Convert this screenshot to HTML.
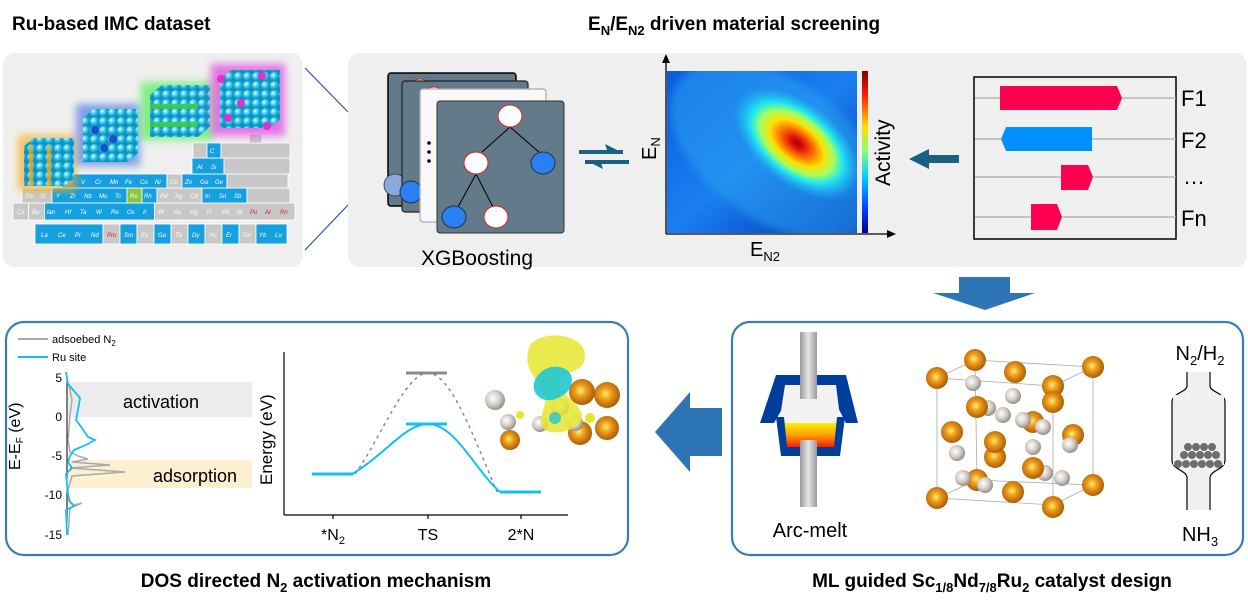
<!DOCTYPE html>
<html><head><meta charset="utf-8"><style>
html,body{margin:0;padding:0;background:#fff;}
svg{display:block;font-family:"Liberation Sans",Arial,sans-serif;}
</style></head><body>
<svg width="1248" height="606" viewBox="0 0 1248 606" xmlns="http://www.w3.org/2000/svg">
<defs>
<radialGradient id="cy" cx="0.35" cy="0.35" r="0.7"><stop offset="0" stop-color="#d8fbff"/><stop offset="0.5" stop-color="#2cc6ea"/><stop offset="1" stop-color="#0a87b8"/></radialGradient>
<radialGradient id="or" cx="0.45" cy="0.45" r="0.6"><stop offset="0" stop-color="#fff36a"/><stop offset="0.35" stop-color="#f0a020"/><stop offset="1" stop-color="#a55200"/></radialGradient>
<radialGradient id="gy" cx="0.4" cy="0.4" r="0.65"><stop offset="0" stop-color="#ffffff"/><stop offset="0.5" stop-color="#d6d0c8"/><stop offset="1" stop-color="#8e8780"/></radialGradient>
<pattern id="sph" width="9" height="9" patternUnits="userSpaceOnUse"><rect width="9" height="9" fill="#1390c0"/><circle cx="4.5" cy="4.5" r="4.5" fill="url(#cy)"/></pattern>
<radialGradient id="heat" cx="0.5" cy="0.5" r="0.5">
<stop offset="0" stop-color="#a00000"/><stop offset="0.1" stop-color="#e01010"/><stop offset="0.25" stop-color="#ff7000"/><stop offset="0.4" stop-color="#ffe000"/><stop offset="0.55" stop-color="#a0ff60"/><stop offset="0.68" stop-color="#20e8f0"/><stop offset="0.85" stop-color="#20b0f0" stop-opacity="0.6"/><stop offset="1" stop-color="#1880f0" stop-opacity="0"/></radialGradient>
<linearGradient id="hbg" x1="0" y1="0" x2="1" y2="1"><stop offset="0" stop-color="#0a5ae0"/><stop offset="0.5" stop-color="#1a80f0"/><stop offset="1" stop-color="#0030b0"/></linearGradient>
<linearGradient id="cbar" x1="0" y1="1" x2="0" y2="0"><stop offset="0" stop-color="#00008f"/><stop offset="0.15" stop-color="#0040ff"/><stop offset="0.35" stop-color="#00d0ff"/><stop offset="0.5" stop-color="#80ff80"/><stop offset="0.65" stop-color="#ffe000"/><stop offset="0.85" stop-color="#ff2000"/><stop offset="1" stop-color="#800000"/></linearGradient>
<linearGradient id="melt" x1="0" y1="0" x2="0" y2="1"><stop offset="0" stop-color="#fff200"/><stop offset="0.5" stop-color="#ff9a00"/><stop offset="1" stop-color="#ff1000"/></linearGradient>
<linearGradient id="rod" x1="0" y1="0" x2="1" y2="0"><stop offset="0" stop-color="#9a9a9a"/><stop offset="0.5" stop-color="#e6e6e6"/><stop offset="1" stop-color="#9a9a9a"/></linearGradient>
<filter id="bl" x="-30%" y="-30%" width="160%" height="160%"><feGaussianBlur stdDeviation="4"/></filter>
</defs>

<text x="12" y="30" font-size="19" font-weight="bold">Ru-based IMC dataset</text>
<text x="588" y="30" font-size="19" font-weight="bold">E<tspan font-size="13" dy="5">N</tspan><tspan dy="-5">/E</tspan><tspan font-size="13" dy="5">N2</tspan><tspan dy="-5"> driven material screening</tspan></text>

<rect x="3" y="53" width="300" height="214" rx="12" fill="#efefef"/>
<line x1="305" y1="68" x2="348" y2="112" stroke="#2a50b0" stroke-width="1.2"/>
<line x1="305" y1="250" x2="348" y2="205" stroke="#2a50b0" stroke-width="1.2"/>

<g stroke="#fff" stroke-width="0.8" font-size="6" fill="#fff" font-style="italic">
<rect x="13" y="203" width="15.7" height="17" fill="#c8c8c8"/><rect x="28.7" y="203" width="15.7" height="17" fill="#c8c8c8"/>
<rect x="44.4" y="203" width="110" height="17" fill="#16a0e0"/>
<rect x="154.4" y="203" width="140.6" height="17" fill="#c8c8c8"/>
<rect x="22" y="188" width="30" height="15" fill="#c8c8c8"/>
<rect x="52" y="188" width="75" height="15" fill="#16a0e0"/>
<rect x="127" y="188" width="15" height="15" fill="#8cc63f"/>
<rect x="142" y="188" width="15" height="15" fill="#16a0e0"/>
<rect x="157" y="188" width="45" height="15" fill="#c8c8c8"/>
<rect x="202" y="188" width="45" height="15" fill="#16a0e0"/>
<rect x="247" y="188" width="43" height="15" fill="#c8c8c8"/>
<rect x="62" y="174" width="105" height="14" fill="#16a0e0"/>
<rect x="167" y="174" width="15" height="14" fill="#c8c8c8"/>
<rect x="182" y="174" width="45" height="14" fill="#16a0e0"/>
<rect x="227" y="174" width="61" height="14" fill="#c8c8c8"/>
<rect x="192" y="158" width="32" height="16" fill="#16a0e0"/>
<rect x="224" y="158" width="66" height="16" fill="#c8c8c8"/>
<rect x="193" y="143" width="14" height="15" fill="#c8c8c8"/>
<rect x="207" y="143" width="14" height="15" fill="#16a0e0"/>
<rect x="221" y="143" width="69" height="15" fill="#c8c8c8"/>
<rect x="249" y="134" width="13" height="9" fill="#c8c8c8"/>
<rect x="35" y="224" width="68" height="20" fill="#16a0e0"/>
<rect x="103" y="224" width="17" height="20" fill="#c8c8c8"/>
<rect x="120" y="224" width="17" height="20" fill="#16a0e0"/>
<rect x="137" y="224" width="17" height="20" fill="#c8c8c8"/>
<rect x="154" y="224" width="17" height="20" fill="#16a0e0"/>
<rect x="171" y="224" width="17" height="20" fill="#c8c8c8"/>
<rect x="188" y="224" width="17" height="20" fill="#16a0e0"/>
<rect x="205" y="224" width="17" height="20" fill="#c8c8c8"/>
<rect x="222" y="224" width="17" height="20" fill="#16a0e0"/>
<rect x="239" y="224" width="17" height="20" fill="#c8c8c8"/>
<rect x="256" y="224" width="31" height="20" fill="#16a0e0"/>
<g stroke="none">
<text x="41" y="237">La</text><text x="58" y="237">Ce</text><text x="75" y="237">Pr</text><text x="91" y="237">Nd</text><text x="107" y="237" fill="#e02020">Pm</text><text x="124" y="237">Sm</text><text x="141" y="237">Eu</text><text x="158" y="237">Ga</text><text x="175" y="237">Tb</text><text x="192" y="237">Dy</text><text x="209" y="237">Ho</text><text x="226" y="237">Er</text><text x="242" y="237">Tm</text><text x="259" y="237">Yb</text><text x="275" y="237">Lu</text>
<text x="17" y="214">Cs</text><text x="32" y="214">Ba</text><text x="47" y="214">lan</text><text x="65" y="214">Hf</text><text x="80" y="214">Ta</text><text x="96" y="214">W</text><text x="111" y="214">Re</text><text x="127" y="214">Os</text><text x="143" y="214">Ir</text><text x="158" y="214">Pt</text><text x="174" y="214">Au</text><text x="190" y="214">Hg</text><text x="206" y="214">Tl</text><text x="222" y="214">Pb</text><text x="237" y="214">Bi</text><text x="250" y="214" fill="#e02020">Po</text><text x="265" y="214" fill="#e02020">At</text><text x="280" y="214" fill="#e02020">Rn</text>
<text x="25" y="198">Rb</text><text x="40" y="198">Sr</text><text x="56" y="198">Y</text><text x="70" y="198">Zr</text><text x="84" y="198">Nb</text><text x="99" y="198">Mo</text><text x="115" y="198">Tc</text><text x="130" y="198">Ru</text><text x="144" y="198">Rh</text><text x="160" y="198">Pd</text><text x="175" y="198">Ag</text><text x="190" y="198">Cd</text><text x="205" y="198">In</text><text x="219" y="198">Sn</text><text x="234" y="198">Sb</text>
<text x="66" y="184">Ti</text><text x="81" y="184">V</text><text x="95" y="184">Cr</text><text x="110" y="184">Mn</text><text x="125" y="184">Fe</text><text x="140" y="184">Co</text><text x="155" y="184">Ni</text><text x="170" y="184">Cu</text><text x="185" y="184">Zn</text><text x="200" y="184">Ga</text><text x="215" y="184">Ge</text>
<text x="197" y="169">Al</text><text x="211" y="169">Si</text><text x="210" y="153">C</text>
</g>
</g>

<g>
<rect x="18" y="135" width="58" height="56" fill="#f5b020" opacity="0.7" filter="url(#bl)"/>
<rect x="24" y="146" width="40" height="40" fill="url(#sph)"/>
<polygon points="24,146 34,138 74,138 64,146" fill="url(#sph)"/>
<polygon points="64,146 74,138 74,178 64,186" fill="url(#sph)"/>
<rect x="29" y="146" width="4" height="40" fill="#f0a010" opacity="0.8"/><rect x="47" y="146" width="4" height="40" fill="#f0a010" opacity="0.8"/>
</g>
<g>
<rect x="76" y="104" width="64" height="62" fill="#3a6ae0" opacity="0.6" filter="url(#bl)"/>
<rect x="83" y="118" width="44" height="44" fill="url(#sph)"/>
<polygon points="83,118 94,109 138,109 127,118" fill="url(#sph)"/>
<polygon points="127,118 138,109 138,153 127,162" fill="url(#sph)"/>
<circle cx="95" cy="130" r="4" fill="#1a50d0"/><circle cx="113" cy="139" r="4" fill="#1a50d0"/><circle cx="104" cy="148" r="4" fill="#1a50d0"/>
</g>
<g>
<rect x="141" y="82" width="72" height="58" fill="#50f050" opacity="0.7" filter="url(#bl)"/>
<rect x="150" y="95" width="48" height="42" fill="url(#sph)"/>
<polygon points="150,95 162,85 210,85 198,95" fill="url(#sph)"/>
<polygon points="198,95 210,85 210,127 198,137" fill="url(#sph)"/>
<rect x="150" y="104" width="48" height="5" fill="#40d040" opacity="0.85"/><rect x="150" y="122" width="48" height="5" fill="#40d040" opacity="0.85"/>
</g>
<g>
<rect x="211" y="64" width="74" height="72" fill="#e040e0" opacity="0.7" filter="url(#bl)"/>
<rect x="220" y="78" width="48" height="50" fill="url(#sph)"/>
<polygon points="220,78 232,70 280,70 268,78" fill="url(#sph)"/>
<polygon points="268,78 280,70 280,120 268,128" fill="url(#sph)"/>
<circle cx="221" cy="79" r="4" fill="#e030d0"/><circle cx="241" cy="103" r="4" fill="#e030d0"/><circle cx="267" cy="126" r="4" fill="#e030d0"/><circle cx="262" cy="76" r="4" fill="#e030d0"/><circle cx="228" cy="118" r="4" fill="#e030d0"/>
</g>

<rect x="348" y="53" width="899" height="214" rx="12" fill="#efefef"/>
<rect x="388" y="73" width="128" height="133" rx="3" fill="#627a8a" stroke="#000" stroke-width="1.5"/>
<circle cx="395" cy="185" r="11" fill="#8aa8e0" stroke="#334" stroke-width="0.8"/>
<circle cx="420" cy="90" r="11" fill="#fff" stroke="#e02020"/>
<rect x="402" y="81" width="126" height="131" rx="3" fill="#627a8a" stroke="#222" stroke-width="1.2"/>
<circle cx="411" cy="192" r="11" fill="#2a80f0" stroke="#234"/>
<circle cx="434" cy="98" r="11" fill="#fff" stroke="#e02020"/>
<rect x="420" y="89" width="126" height="133" rx="3" fill="#f8f8f8" stroke="#aaa" stroke-width="1.2"/>
<rect x="437" y="101" width="127" height="132" rx="3" fill="#627a8a" stroke="#333" stroke-width="1"/>
<circle cx="429" cy="143" r="1.8" fill="#000"/><circle cx="429" cy="152" r="1.8" fill="#000"/><circle cx="429" cy="161" r="1.8" fill="#000"/>
<g stroke="#000" stroke-width="1"><line x1="510" y1="127" x2="482" y2="152"/><line x1="510" y1="127" x2="540" y2="153"/><line x1="476" y1="174" x2="458" y2="207"/><line x1="476" y1="174" x2="493" y2="207"/></g>
<ellipse cx="510" cy="116" rx="12" ry="11" fill="#fff" stroke="#e02020"/>
<ellipse cx="476" cy="163" rx="12" ry="11" fill="#fff" stroke="#e02020"/>
<ellipse cx="543" cy="163" rx="12" ry="11" fill="#2a80f0" stroke="#234"/>
<ellipse cx="454" cy="217" rx="12" ry="11" fill="#2a80f0" stroke="#234"/>
<ellipse cx="496" cy="217" rx="12" ry="11" fill="#fff" stroke="#e02020"/>
<text x="477" y="265" font-size="21" text-anchor="middle">XGBoosting</text>
<polygon points="579,153 623,153 605,144 608,153" fill="#1a6080"/>
<rect x="579" y="150" width="44" height="4" fill="#1a6080"/>
<rect x="585" y="160" width="44" height="4" fill="#1a6080"/>
<polygon points="585,160 603,169 600,160" fill="#1a6080"/>
<svg x="667" y="71" width="190" height="162" viewBox="0 0 190 162">
<rect width="190" height="162" fill="url(#hbg)"/>
<ellipse cx="110" cy="80" rx="120" ry="70" transform="rotate(35 110 80)" fill="#2aa0f0" opacity="0.55" filter="url(#bl)"/>
<ellipse cx="130" cy="72" rx="78" ry="44" transform="rotate(38 130 72)" fill="url(#heat)"/>
</svg>
<rect x="862" y="71" width="6" height="162" fill="url(#cbar)"/>
<g stroke="#000" stroke-width="1.3"><line x1="666" y1="234" x2="666" y2="60"/><line x1="666" y1="234" x2="890" y2="234"/></g>
<polygon points="666,54 662,63 670,63" fill="#000"/><polygon points="896,234 887,230 887,238" fill="#000"/>
<text transform="translate(656,160) rotate(-90)" font-size="20">E<tspan font-size="13" dy="4">N</tspan></text>
<text x="750" y="256" font-size="20">E<tspan font-size="13" dy="5">N2</tspan></text>
<text transform="translate(890,186) rotate(-90)" font-size="21">Activity</text>
<polygon points="909,159 929,149 929,155 959,155 959,163 929,163 929,169" fill="#1a6080"/>
<rect x="974" y="77" width="202" height="162" fill="#f0f0f0" stroke="#000" stroke-width="1.5"/>
<g stroke="#aaa" stroke-width="1.2"><line x1="975" y1="98" x2="1176" y2="98"/><line x1="975" y1="139" x2="1176" y2="139"/><line x1="975" y1="177" x2="1176" y2="177"/><line x1="975" y1="217" x2="1176" y2="217"/></g>
<polygon points="1000,86 1117,86 1122,98 1117,110 1000,110" fill="#ff0050"/>
<polygon points="1006,127 1092,127 1092,151 1006,151 1001,139" fill="#0090ff"/>
<polygon points="1061,165 1088,165 1093,177 1088,190 1061,190" fill="#ff0050"/>
<polygon points="1031,204 1057,204 1062,217 1057,230 1031,230" fill="#ff0050"/>
<g font-size="22"><text x="1181" y="106">F1</text><text x="1181" y="148">F2</text><text x="1183" y="184">…</text><text x="1181" y="226">Fn</text></g>

<polygon points="959,277 1010,277 1010,293 1035,293 985,310 933,293 959,293" fill="#2e75b6"/>
<polygon points="722,408 690,408 690,392 655,432 690,472 690,456 722,456" fill="#2e75b6"/>

<rect x="6" y="322" width="622" height="233" rx="18" fill="#fff" stroke="#3d7ab8" stroke-width="2.2"/>
<line x1="18" y1="339" x2="48" y2="339" stroke="#aaa" stroke-width="2"/>
<text x="52" y="343" font-size="11">adsoebed N<tspan font-size="8" dy="3">2</tspan></text>
<line x1="18" y1="357" x2="48" y2="357" stroke="#10c0f0" stroke-width="2"/>
<text x="52" y="361" font-size="11">Ru site</text>
<rect x="68" y="382" width="184" height="35" fill="#ececec"/>
<rect x="68" y="460" width="184" height="28" fill="#fdf0d0"/>
<text x="161" y="408" font-size="18" text-anchor="middle">activation</text>
<text x="195" y="482" font-size="18" text-anchor="middle">adsorption</text>
<line x1="67" y1="378" x2="67" y2="535" stroke="#000" stroke-width="1"/>
<g font-size="12" text-anchor="end"><text x="62" y="382">5</text><text x="62" y="421">0</text><text x="62" y="460">-5</text><text x="62" y="499">-10</text><text x="62" y="539">-15</text></g>
<text transform="translate(20,470) rotate(-90)" font-size="16">E-E<tspan font-size="10" dy="3">F</tspan><tspan dy="-3"> (eV)</tspan></text>
<polyline points="69,385 72,400 70,415 68,440 70,452 78,456 88,459 72,462 110,465 70,468 125,472 72,476 68,490 68,500 74,505 82,503 70,508 68,535" fill="none" stroke="#aaa" stroke-width="1.5"/>
<polyline points="66,372 68,384 80,398 78,410 76,420 82,428 88,437 95,440 86,445 74,450 70,456 68,462 72,468 66,474 68,495 70,502 74,506 66,510 67,535" fill="none" stroke="#10c0f0" stroke-width="1.8"/>
<g stroke="#000" stroke-width="1.2"><line x1="284" y1="352" x2="284" y2="515"/><line x1="284" y1="515" x2="568" y2="515"/>
<line x1="333" y1="515" x2="333" y2="519"/><line x1="428" y1="515" x2="428" y2="519"/><line x1="521" y1="515" x2="521" y2="519"/></g>
<g font-size="16" text-anchor="middle"><text x="333" y="540">*N<tspan font-size="11" dy="4">2</tspan></text><text x="428" y="540">TS</text><text x="521" y="540">2*N</text></g>
<text transform="translate(272,485) rotate(-90)" font-size="17">Energy (eV)</text>
<path d="M355,474 C380,440 405,373 428,373 C451,373 475,440 497,492" fill="none" stroke="#888" stroke-width="1.5" stroke-dasharray="3,4"/>
<path d="M352,474 C385,455 405,424 428,424 C455,424 475,470 500,492" fill="none" stroke="#10c0f0" stroke-width="2"/>
<g stroke-width="3"><line x1="312" y1="474" x2="353" y2="474" stroke="#10c0f0"/><line x1="406" y1="424" x2="447" y2="424" stroke="#10c0f0"/><line x1="406" y1="373" x2="447" y2="373" stroke="#888"/><line x1="500" y1="492" x2="541" y2="492" stroke="#10c0f0"/></g>
<g>
<circle cx="607" cy="395" r="13" fill="url(#or)"/><circle cx="582" cy="392" r="13" fill="url(#or)"/><circle cx="580" cy="433" r="12" fill="url(#or)"/><circle cx="607" cy="428" r="12" fill="url(#or)"/><circle cx="510" cy="440" r="10" fill="url(#or)"/>
<circle cx="495" cy="400" r="10" fill="url(#gy)"/><circle cx="560" cy="407" r="9" fill="url(#gy)"/><circle cx="540" cy="424" r="8" fill="url(#gy)"/><circle cx="575" cy="423" r="8" fill="url(#gy)"/><circle cx="508" cy="422" r="8" fill="url(#gy)"/>
<path d="M530,345 C545,328 585,335 585,355 C585,372 570,370 560,378 C555,390 575,400 580,410 C590,425 560,438 545,430 C535,420 548,405 545,395 C540,380 520,370 530,345 Z" fill="#e6e630" opacity="0.85"/>
<path d="M535,380 C545,360 572,365 572,380 C572,392 560,398 552,400 C540,402 530,392 535,380 Z" fill="#20c8d0" opacity="0.9"/>
<circle cx="555" cy="418" r="6" fill="#20c8d0" opacity="0.8"/><circle cx="590" cy="418" r="5" fill="#e6e630"/><circle cx="520" cy="415" r="4" fill="#e6e630"/>
</g>

<rect x="732" y="322" width="511" height="233" rx="18" fill="#fff" stroke="#3d7ab8" stroke-width="2.2"/>
<polygon points="776,375 846,375 858,423 846,423 836,404 785,404 774,423 760,423" fill="#003e9c"/>
<polygon points="785,385 836,385 840,417 780,417" fill="#f2f2f2"/>
<rect x="800" y="332" width="17" height="67" fill="url(#rod)"/>
<polygon points="780,417 840,417 836,451 785,451" fill="#f2f2f2"/>
<polygon points="783,423 837,423 835,448 786,448" fill="url(#melt)"/>
<polygon points="776,417 784,417 787,447 834,447 837,417 845,417 840,456 781,456" fill="#003e9c"/>
<rect x="800" y="440" width="17" height="67" fill="url(#rod)"/>
<text x="810" y="537" font-size="20" text-anchor="middle">Arc-melt</text>
<g stroke="#aaa" stroke-width="0.8" fill="none">
<polygon points="937,378 1053,386 1053,505 937,498"/>
<polygon points="975,360 1093,367 1093,485 977,480"/>
<line x1="937" y1="378" x2="975" y2="360"/><line x1="1053" y1="386" x2="1093" y2="367"/><line x1="1053" y1="505" x2="1093" y2="485"/><line x1="937" y1="498" x2="977" y2="480"/>
</g>
<g>
<circle cx="973" cy="383" r="8" fill="url(#gy)"/><circle cx="1013" cy="396" r="8" fill="url(#gy)"/><circle cx="988" cy="408" r="8" fill="url(#gy)"/><circle cx="1003" cy="415" r="8" fill="url(#gy)"/>
<circle cx="975" cy="360" r="11" fill="url(#or)"/><circle cx="1093" cy="367" r="11" fill="url(#or)"/><circle cx="1015" cy="372" r="11" fill="url(#or)"/>
<circle cx="937" cy="378" r="11" fill="url(#or)"/><circle cx="1053" cy="386" r="11" fill="url(#or)"/><circle cx="1053" cy="402" r="11" fill="url(#or)"/>
<circle cx="1033" cy="422" r="11" fill="url(#or)"/><circle cx="1023" cy="420" r="8" fill="url(#gy)"/><circle cx="1043" cy="427" r="8" fill="url(#gy)"/>
<circle cx="977" cy="407" r="11" fill="url(#or)"/><circle cx="952" cy="432" r="11" fill="url(#or)"/><circle cx="1073" cy="435" r="11" fill="url(#or)"/>
<circle cx="957" cy="453" r="8" fill="url(#gy)"/><circle cx="1033" cy="447" r="8" fill="url(#gy)"/><circle cx="1070" cy="445" r="8" fill="url(#gy)"/>
<circle cx="995" cy="457" r="11" fill="url(#or)"/><circle cx="995" cy="442" r="11" fill="url(#or)"/>
<circle cx="977" cy="480" r="11" fill="url(#or)"/><circle cx="963" cy="478" r="8" fill="url(#gy)"/><circle cx="985" cy="485" r="8" fill="url(#gy)"/>
<circle cx="1045" cy="473" r="8" fill="url(#gy)"/><circle cx="1062" cy="478" r="8" fill="url(#gy)"/><circle cx="1033" cy="468" r="11" fill="url(#or)"/>
<circle cx="937" cy="498" r="11" fill="url(#or)"/><circle cx="1013" cy="492" r="11" fill="url(#or)"/><circle cx="1053" cy="507" r="11" fill="url(#or)"/><circle cx="1093" cy="485" r="11" fill="url(#or)"/>
</g>
<text x="1200" y="360" font-size="20" text-anchor="middle">N<tspan font-size="13" dy="5">2</tspan><tspan dy="-5">/H</tspan><tspan font-size="13" dy="5">2</tspan></text>
<path d="M1187,372 L1187,386 C1187,392 1172,393 1172,402 L1172,460 C1172,470 1187,470 1187,478 L1187,510 M1210,372 L1210,386 C1210,392 1225,393 1225,402 L1225,460 C1225,470 1210,470 1210,478 L1210,510" fill="#f0f0f0" stroke="#000" stroke-width="1.2"/>
<rect x="1188" y="372" width="21" height="138" fill="#f0f0f0"/>
<rect x="1173" y="395" width="51" height="70" fill="#f0f0f0"/>
<g fill="#6e6e6e">
<circle cx="1188" cy="447" r="4"/><circle cx="1196" cy="447" r="4"/><circle cx="1204" cy="447" r="4"/><circle cx="1212" cy="447" r="4"/>
<circle cx="1184" cy="455" r="4"/><circle cx="1192" cy="455" r="4"/><circle cx="1200" cy="455" r="4"/><circle cx="1208" cy="455" r="4"/><circle cx="1216" cy="455" r="4"/>
<circle cx="1178" cy="464" r="4"/><circle cx="1186" cy="464" r="4"/><circle cx="1194" cy="464" r="4"/><circle cx="1202" cy="464" r="4"/><circle cx="1210" cy="464" r="4"/><circle cx="1218" cy="464" r="4"/>
</g>
<text x="1200" y="541" font-size="20" text-anchor="middle">NH<tspan font-size="13" dy="5">3</tspan></text>

<text x="316" y="587" font-size="19" font-weight="bold" text-anchor="middle">DOS directed N<tspan font-size="13" dy="5">2</tspan><tspan dy="-5"> activation mechanism</tspan></text>
<text x="992" y="587" font-size="19" font-weight="bold" text-anchor="middle">ML guided Sc<tspan font-size="13" dy="5">1/8</tspan><tspan dy="-5">Nd</tspan><tspan font-size="13" dy="5">7/8</tspan><tspan dy="-5">Ru</tspan><tspan font-size="13" dy="5">2</tspan><tspan dy="-5"> catalyst design</tspan></text>
</svg>
</body></html>
